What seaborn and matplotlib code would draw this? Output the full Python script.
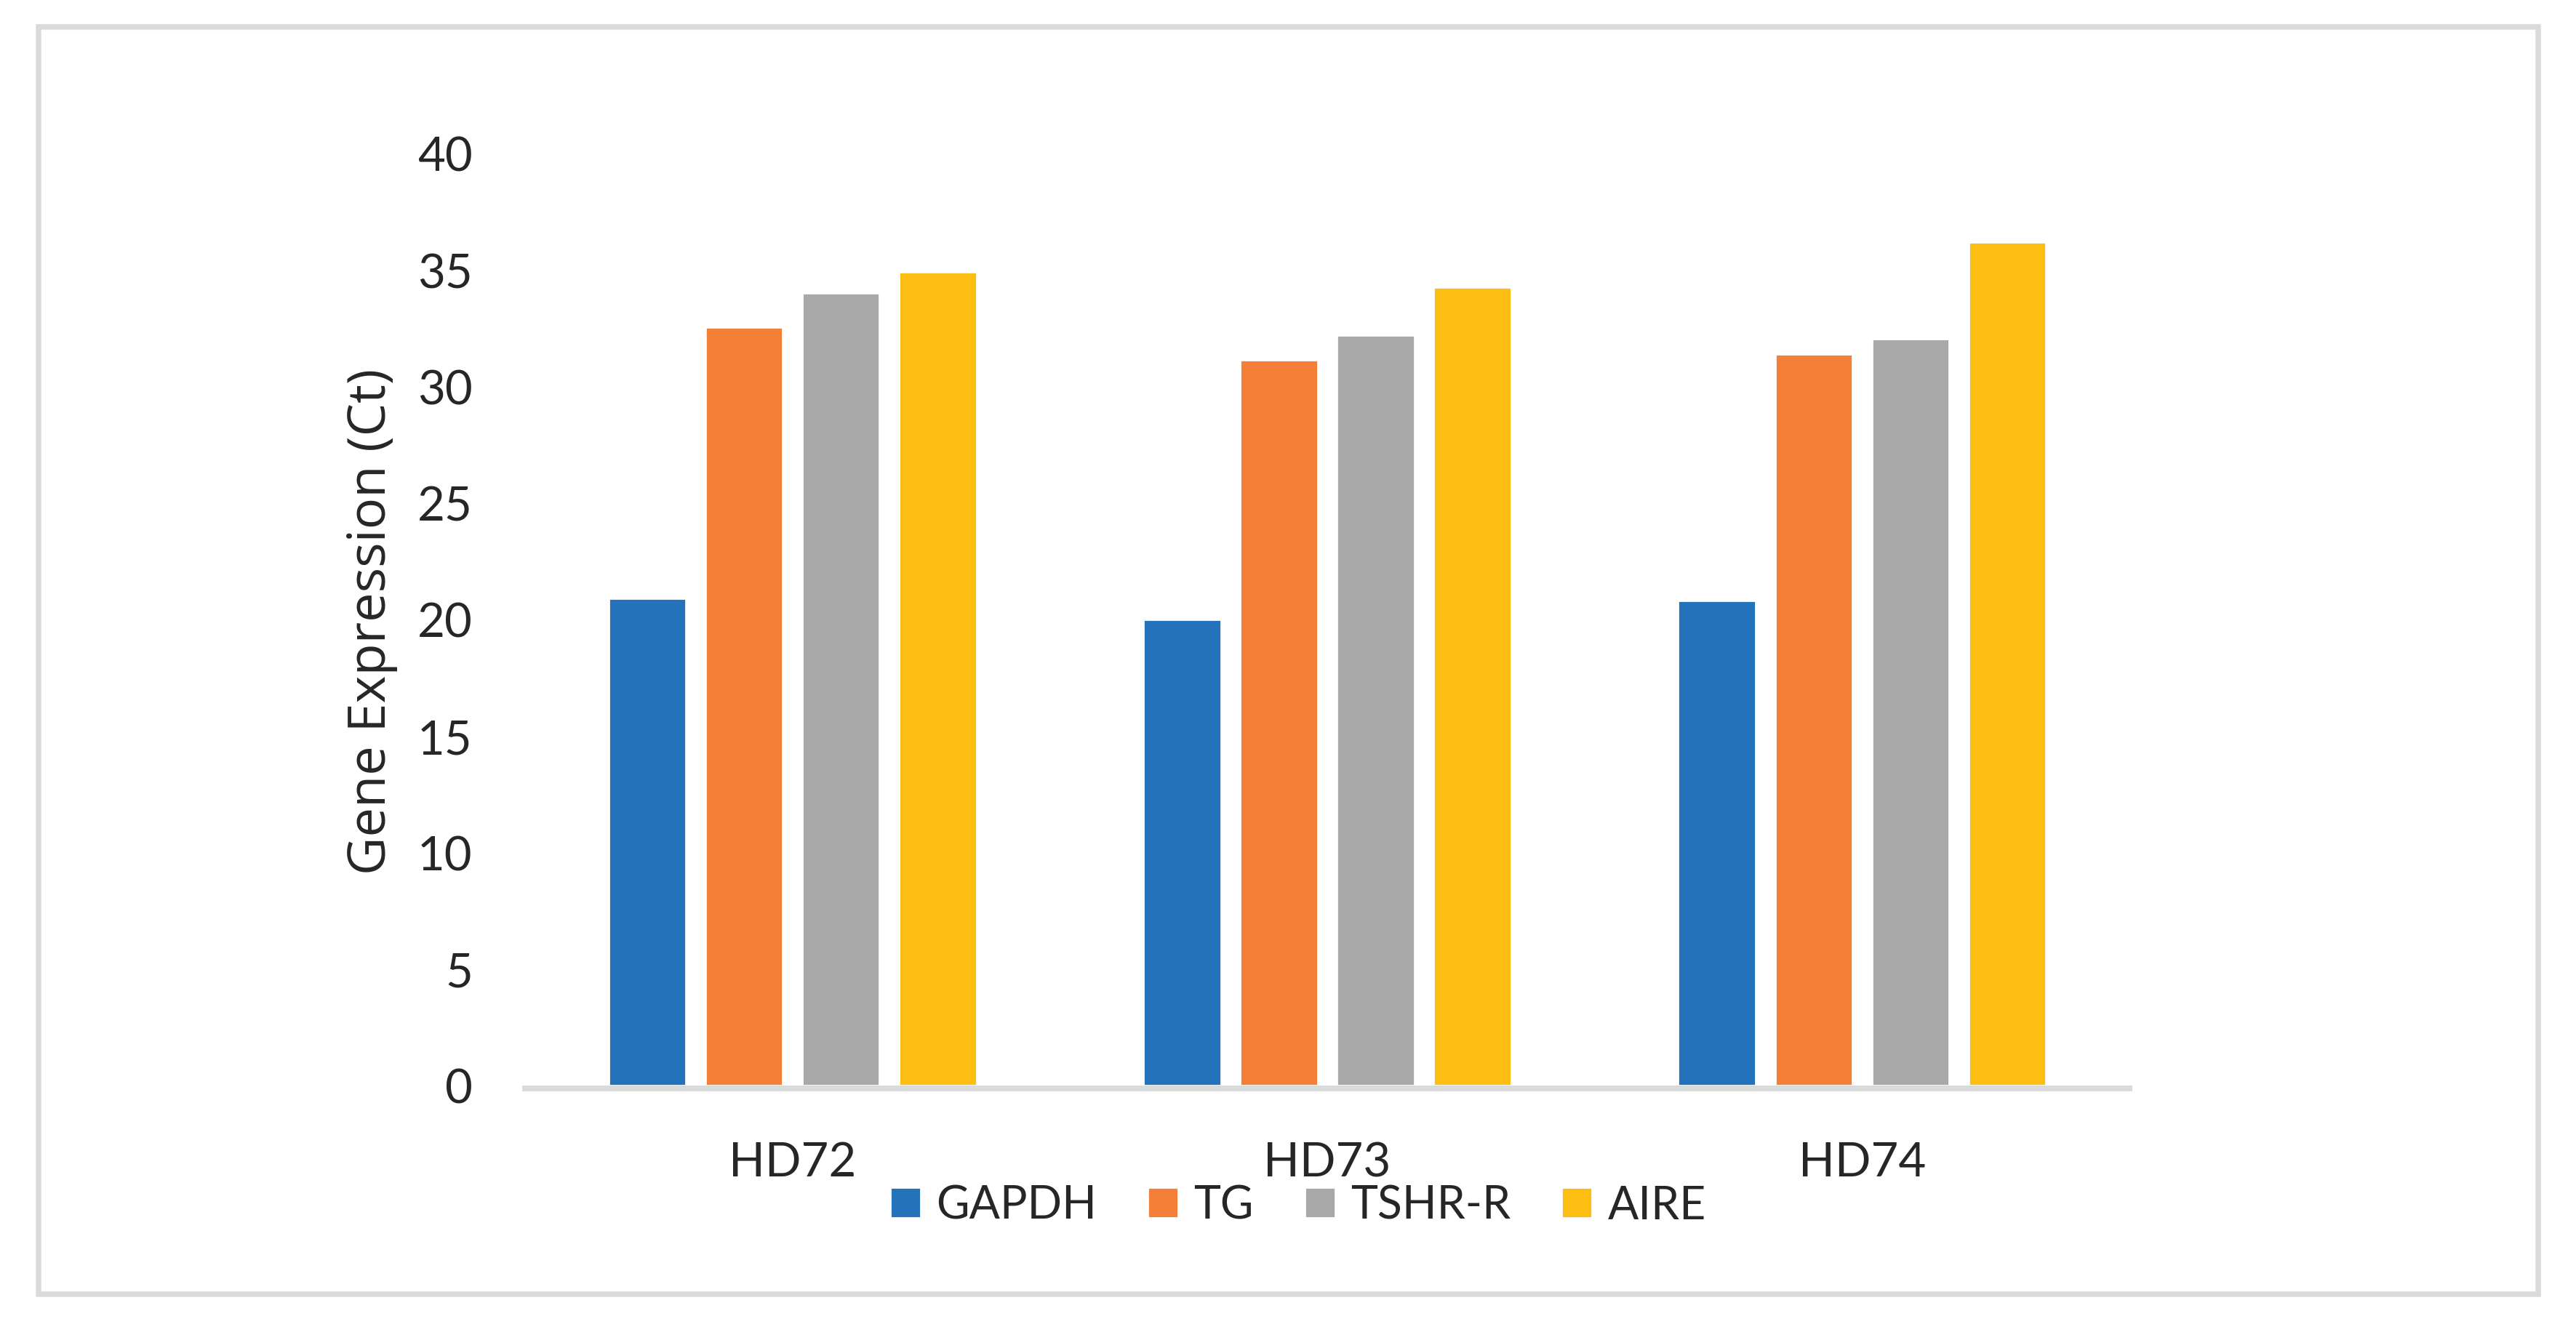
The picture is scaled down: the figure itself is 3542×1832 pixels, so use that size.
import matplotlib
matplotlib.use("Agg")
import matplotlib.pyplot as plt
import matplotlib.patches as mpatches
import seaborn as sns
import pandas as pd

samples = ["HD72", "HD73", "HD74"]
genes = ["GAPDH", "TG", "TSHR-R", "AIRE"]
gapdh = [20.9, 20.0, 20.8]
tg = [32.55, 31.15, 31.4]
tshr = [34.0, 32.2, 32.05]
aire = [34.9, 34.25, 36.2]
colors = ["#2372BA", "#F48037", "#A7A8A7", "#FDBE13"]

rows = []
for g, vals in zip(genes, [gapdh, tg, tshr, aire]):
    for s, v in zip(samples, vals):
        rows.append({"sample": s, "gene": g, "ct": v})
df = pd.DataFrame(rows)

sns.set_style("white")
plt.rcParams["font.family"] = ["Lato", "DejaVu Sans"]

W, H = 3542, 1833
fig = plt.figure(figsize=(W / 200, H / 200), dpi=200)
ax = fig.add_axes([722 / W, 1 - 1494 / H, (2928 - 722) / W, 1282 / H])

sns.barplot(data=df, x="sample", y="ct", hue="gene", palette=colors,
            hue_order=genes, order=samples, width=0.724, gap=0.2,
            saturation=1, errorbar=None, ax=ax)

ax.set_ylim(0, 40)
ax.set_yticks(range(0, 41, 5))
ax.set_xlabel("")
ax.set_ylabel("")
for s in ["top", "right", "left"]:
    ax.spines[s].set_visible(False)
ax.spines["bottom"].set_color("#D9DADA")
ax.spines["bottom"].set_linewidth(8 * 72 / 200)
ax.spines["bottom"].set_position(("outward", 4 * 72 / 200))
ax.spines["bottom"].set_zorder(0)
ax.tick_params(axis="y", length=0, labelsize=23.5, pad=26)
ax.tick_params(axis="x", length=0, labelsize=23.5, pad=26)

# legend below the axis, like the Excel original
handles, labels = ax.get_legend_handles_labels()
ax.legend_.remove()
fig.legend(handles, labels, loc="center", ncol=4, frameon=False,
           bbox_to_anchor=(1785 / W, 1 - 1659 / H), fontsize=22.5,
           handlelength=0.67, handleheight=0.67, handletextpad=0.34,
           columnspacing=1.12, borderpad=0, borderaxespad=0)

fig.text(530 / W, 1 - 855 / H, "Gene Expression (Ct)", rotation=90,
         rotation_mode="anchor", ha="center", va="baseline",
         fontsize=26, family=["Open Sans", "DejaVu Sans"])

border = mpatches.Rectangle((53 / W, 1 - 1781 / H), (3490 - 53) / W,
                            (1781 - 37.5) / H, transform=fig.transFigure,
                            fill=False, edgecolor="#D9DADA",
                            linewidth=7.5 * 72 / 200)
fig.patches.append(border)

fig.savefig("out.png", dpi=200, facecolor="white")
